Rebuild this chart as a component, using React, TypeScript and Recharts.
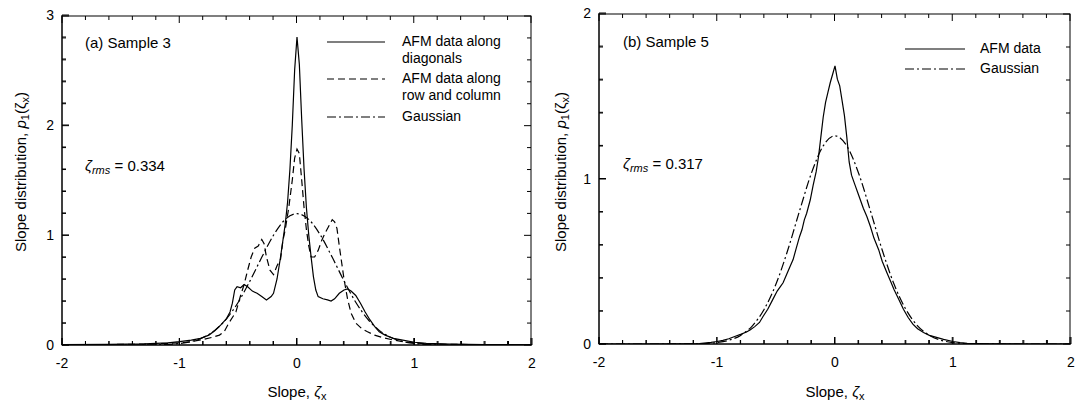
import React from "react";
import { LineChart, Line, XAxis, YAxis } from "recharts";

const FONT = '"Liberation Sans", Arial, sans-serif';

// x ticks shared by both panels (labels only on integers)
const slopeTicks = [-2, -1.8, -1.6, -1.4, -1.2, -1, -0.8, -0.6, -0.4, -0.2, 0, 0.2, 0.4, 0.6, 0.8, 1, 1.2, 1.4, 1.6, 1.8, 2];
const yTicksA = [0, 0.2, 0.4, 0.6, 0.8, 1, 1.2, 1.4, 1.6, 1.8, 2, 2.2, 2.4, 2.6, 2.8, 3];
const yTicksB = [0, 0.2, 0.4, 0.6, 0.8, 1, 1.2, 1.4, 1.6, 1.8, 2];

// (a) sample 3, AFM data along diagonals
const diagX = [-2, -1.6, -1.3, -1.1, -1, -0.9, -0.82, -0.75, -0.7, -0.65, -0.6, -0.57, -0.55, -0.53, -0.51, -0.48, -0.45, -0.42, -0.38, -0.34, -0.3, -0.26, -0.22, -0.2, -0.17, -0.14, -0.12, -0.1, -0.08, -0.06, -0.04, -0.02, 0, 0.02, 0.04, 0.06, 0.08, 0.1, 0.12, 0.14, 0.16, 0.18, 0.22, 0.26, 0.29, 0.32, 0.36, 0.4, 0.43, 0.46, 0.5, 0.54, 0.58, 0.62, 0.66, 0.7, 0.75, 0.82, 0.9, 1, 1.1, 1.3, 1.6, 2];
const diagY = [0.003, 0.005, 0.01, 0.02, 0.03, 0.045, 0.06, 0.09, 0.13, 0.18, 0.24, 0.3, 0.38, 0.5, 0.53, 0.52, 0.55, 0.53, 0.49, 0.47, 0.44, 0.41, 0.44, 0.47, 0.6, 0.8, 0.95, 1.1, 1.3, 1.6, 2.0, 2.5, 2.8, 2.55, 2.05, 1.6, 1.25, 1.0, 0.8, 0.62, 0.5, 0.44, 0.42, 0.41, 0.4, 0.42, 0.47, 0.5, 0.51, 0.49, 0.45, 0.38, 0.3, 0.23, 0.17, 0.12, 0.09, 0.06, 0.045, 0.025, 0.015, 0.008, 0.004, 0.002];

// (a) sample 3, AFM data along row and column
const rowX = [-2, -1.6, -1.3, -1.1, -1, -0.9, -0.8, -0.72, -0.66, -0.62, -0.58, -0.55, -0.52, -0.48, -0.45, -0.42, -0.39, -0.36, -0.33, -0.3, -0.28, -0.26, -0.23, -0.2, -0.17, -0.14, -0.12, -0.1, -0.07, -0.04, -0.02, 0, 0.02, 0.04, 0.06, 0.08, 0.1, 0.12, 0.15, 0.18, 0.21, 0.24, 0.27, 0.3, 0.32, 0.34, 0.36, 0.38, 0.4, 0.43, 0.46, 0.5, 0.55, 0.6, 0.66, 0.72, 0.8, 0.9, 1, 1.1, 1.3, 1.6, 2];
const rowY = [0.002, 0.004, 0.008, 0.015, 0.02, 0.03, 0.05, 0.07, 0.09, 0.12, 0.2, 0.25, 0.3, 0.45, 0.55, 0.68, 0.8, 0.88, 0.9, 0.96, 0.92, 0.8, 0.68, 0.64, 0.72, 0.78, 0.95, 1.05, 1.25, 1.5, 1.7, 1.78, 1.74, 1.5, 1.25, 1.05, 0.9, 0.8, 0.8, 0.86, 0.95, 1.02, 1.08, 1.14, 1.12, 1.06, 0.9, 0.75, 0.6, 0.42, 0.29, 0.2, 0.15, 0.12, 0.09, 0.07, 0.05, 0.03, 0.02, 0.012, 0.006, 0.003, 0.002];

// Gaussian curves
const gaussX = [-2, -1.7, -1.4, -1.3, -1.2, -1.1, -1, -0.9, -0.8, -0.7, -0.6, -0.5, -0.4, -0.3, -0.2, -0.1, 0, 0.1, 0.2, 0.3, 0.4, 0.5, 0.6, 0.7, 0.8, 0.9, 1, 1.1, 1.2, 1.3, 1.4, 1.7, 2];
const gaussAY = [0, 0, 0.0002, 0.0006, 0.0019, 0.0053, 0.0135, 0.032, 0.068, 0.133, 0.238, 0.389, 0.583, 0.797, 0.998, 1.142, 1.194, 1.142, 0.998, 0.797, 0.583, 0.389, 0.238, 0.133, 0.068, 0.032, 0.0135, 0.0053, 0.0019, 0.0006, 0.0002, 0, 0];
const gaussBY = [0, 0, 0.0001, 0.0003, 0.001, 0.003, 0.0087, 0.0223, 0.052, 0.11, 0.21, 0.362, 0.568, 0.805, 1.032, 1.197, 1.258, 1.197, 1.032, 0.805, 0.568, 0.362, 0.21, 0.11, 0.052, 0.0223, 0.0087, 0.003, 0.001, 0.0003, 0.0001, 0, 0];

// (b) sample 5, AFM data
const afmBX = [-2, -1.6, -1.3, -1.15, -1.05, -1, -0.95, -0.9, -0.85, -0.8, -0.75, -0.72, -0.68, -0.64, -0.61, -0.57, -0.53, -0.49, -0.46, -0.44, -0.41, -0.38, -0.355, -0.33, -0.3, -0.28, -0.26, -0.24, -0.21, -0.185, -0.16, -0.14, -0.12, -0.1, -0.08, -0.06, -0.04, -0.02, 0, 0.02, 0.04, 0.06, 0.08, 0.1, 0.12, 0.14, 0.17, 0.2, 0.24, 0.27, 0.3, 0.33, 0.37, 0.4, 0.44, 0.47, 0.5, 0.54, 0.58, 0.62, 0.66, 0.7, 0.75, 0.8, 0.86, 0.92, 1, 1.06, 1.12, 1.3, 1.6, 2];
const afmBY = [0, 0, 0.001, 0.003, 0.01, 0.015, 0.022, 0.032, 0.045, 0.058, 0.072, 0.085, 0.105, 0.13, 0.166, 0.21, 0.265, 0.32, 0.35, 0.37, 0.42, 0.47, 0.51, 0.575, 0.65, 0.69, 0.75, 0.79, 0.87, 0.96, 1.04, 1.13, 1.25, 1.37, 1.46, 1.52, 1.58, 1.63, 1.68, 1.6, 1.56, 1.47, 1.38, 1.25, 1.1, 1.02, 0.96, 0.9, 0.82, 0.77, 0.71, 0.64, 0.57, 0.5, 0.43, 0.38, 0.33, 0.27, 0.21, 0.16, 0.12, 0.092, 0.07, 0.052, 0.04, 0.028, 0.015, 0.008, 0.004, 0.001, 0, 0];

const zip = (xs: number[], ys: number[]) => xs.map((x, i) => ({ x, y: ys[i] }));

const SOLID = "";
const DASHED = "7 4";
const DASHDOT = "9 3 2 3";

const isMajor = (v: number) => Math.abs(v - Math.round(v)) < 1e-6;

// ticks point inward; labels only on integer values
const BottomTick = (p: any) => {
  const major = isMajor(p.payload.value);
  const x = Number(p.x), y = Number(p.y);
  return (
    <g>
      <line x1={x} x2={x} y1={y} y2={y - (major ? 7 : 4)} stroke="#000" strokeWidth={1} />
      {major && (
        <text x={x} y={y + 23} textAnchor="middle" fontSize={14} fontFamily={FONT} fill="#000">
          {p.payload.value}
        </text>
      )}
    </g>
  );
};

const LeftTick = (p: any) => {
  const major = isMajor(p.payload.value);
  const x = Number(p.x), y = Number(p.y);
  return (
    <g>
      <line x1={x} x2={x + (major ? 7 : 4)} y1={y} y2={y} stroke="#000" strokeWidth={1} />
      {major && (
        <text x={x - 8} y={y + 5} textAnchor="end" fontSize={14} fontFamily={FONT} fill="#000">
          {p.payload.value}
        </text>
      )}
    </g>
  );
};

type Series = { name: string; data: { x: number; y: number }[]; dash: string; curve: "linear" | "monotone" };

function Panel(props: { yMax: number; yTicks: number[]; margin: any; series: Series[] }) {
  return (
    <LineChart width={539} height={410} margin={props.margin}>
      <XAxis xAxisId="b" dataKey="x" type="number" domain={[-2, 2]} ticks={slopeTicks} interval={0} height={1} tickSize={0} tickMargin={0} tick={<BottomTick />} axisLine={{ stroke: "#000" }} tickLine={false} allowDataOverflow />
      <YAxis yAxisId="l" type="number" domain={[0, props.yMax]} ticks={props.yTicks} interval={0} width={1} tickSize={0} tickMargin={0} tick={<LeftTick />} axisLine={{ stroke: "#000" }} tickLine={false} allowDataOverflow />
      {props.series.map((s) => (
        <Line key={s.name} xAxisId="b" yAxisId="l" data={s.data} dataKey="y" type={s.curve} stroke="#000" strokeWidth={1.2} strokeDasharray={s.dash || undefined} dot={false} activeDot={false} isAnimationActive={false} />
      ))}
    </LineChart>
  );
}

// box frame with inward tick marks on all four sides of a plot area
function Frame(props: { x0: number; x1: number; y0: number; y1: number; yMax: number; yTicks: number[] }) {
  const { x0, x1, y0, y1, yMax } = props;
  const sx = (v: number) => x0 + ((v + 2) / 4) * (x1 - x0);
  const sy = (v: number) => y1 - (v / yMax) * (y1 - y0);
  const marks: React.ReactNode[] = [];
  slopeTicks.forEach((v, i) => {
    const len = isMajor(v) ? 7 : 4;
    const x = sx(v);
    marks.push(<line key={"b" + i} x1={x} x2={x} y1={y1} y2={y1 - len} />);
    marks.push(<line key={"t" + i} x1={x} x2={x} y1={y0} y2={y0 + len} />);
  });
  props.yTicks.forEach((v, i) => {
    const len = isMajor(v) ? 7 : 4;
    const y = sy(v);
    marks.push(<line key={"l" + i} x1={x0} x2={x0 + len} y1={y} y2={y} />);
    marks.push(<line key={"r" + i} x1={x1} x2={x1 - len} y1={y} y2={y} />);
  });
  return (
    <g stroke="#000" strokeWidth={1} fill="none">
      <rect x={x0} y={y0} width={x1 - x0} height={y1 - y0} />
      {marks}
    </g>
  );
}

const LegendLine = ({ left, top, width, dash }: { left: number; top: number; width: number; dash: string }) => (
  <svg style={{ position: "absolute", left, top: top - 2 }} width={width} height={4}>
    <line x1={0} x2={width} y1={2} y2={2} stroke="#000" strokeWidth={1.2} strokeDasharray={dash || undefined} />
  </svg>
);

const txt = (left: number, top: number, size = 15): React.CSSProperties => ({
  position: "absolute",
  left,
  top,
  fontSize: size,
  lineHeight: `${size + 3}px`,
  fontFamily: FONT,
  color: "#000",
  whiteSpace: "nowrap",
});

const subStyle: React.CSSProperties = { fontSize: 11, verticalAlign: "-3px" };

const Zrms = ({ value }: { value: string }) => (
  <span>
    <i>ζ</i>
    <sub style={{ ...subStyle, fontStyle: "italic" }}>rms</sub> = {value}
  </span>
);

const XTitle = ({ cx }: { cx: number }) => (
  <div style={{ ...txt(cx, 383), transform: "translateX(-50%)" }}>
    Slope, <i>ζ</i>
    <sub style={subStyle}>x</sub>
  </div>
);

const YTitle = ({ cx }: { cx: number }) => (
  <div style={{ ...txt(cx, 172), transform: "translate(-50%, -50%) rotate(-90deg)" }}>
    Slope distribution, <i>p</i>
    <sub style={subStyle}>1</sub>(ζ<sub style={subStyle}>x</sub>)
  </div>
);

export default function App() {
  const seriesA: Series[] = [
    { name: "diag", data: zip(diagX, diagY), dash: SOLID, curve: "linear" },
    { name: "row", data: zip(rowX, rowY), dash: DASHED, curve: "linear" },
    { name: "gauss", data: zip(gaussX, gaussAY), dash: DASHDOT, curve: "monotone" },
  ];
  const seriesB: Series[] = [
    { name: "afm", data: zip(afmBX, afmBY), dash: SOLID, curve: "linear" },
    { name: "gauss", data: zip(gaussX, gaussBY), dash: DASHDOT, curve: "monotone" },
  ];

  return (
    <div style={{ position: "absolute", left: 0, top: 0, width: 1078, height: 410 }}>
      <div style={{ position: "absolute", left: 0, top: 0 }}>
        <Panel yMax={3} yTicks={yTicksA} margin={{ top: 15, right: 7, bottom: 64, left: 61 }} series={seriesA} />
      </div>
      <div style={{ position: "absolute", left: 539, top: 0 }}>
        <Panel yMax={2} yTicks={yTicksB} margin={{ top: 13, right: 7, bottom: 65, left: 59 }} series={seriesB} />
      </div>

      <svg style={{ position: "absolute", left: 0, top: 0, pointerEvents: "none" }} width={1078} height={410}>
        <Frame x0={62} x1={531} y0={16} y1={345} yMax={3} yTicks={yTicksA} />
        <Frame x0={599} x1={1070} y0={14} y1={344} yMax={2} yTicks={yTicksB} />
      </svg>

      {/* axis titles */}
      <XTitle cx={297} />
      <XTitle cx={835} />
      <YTitle cx={23} />
      <YTitle cx={563} />

      {/* panel (a) annotations */}
      <div style={txt(85, 34)}>(a) Sample 3</div>
      <div style={txt(85, 157)}>
        <Zrms value="0.334" />
      </div>
      <LegendLine left={327} top={42} width={58} dash={SOLID} />
      <div style={txt(402, 33, 14)}>AFM data along<br />diagonals</div>
      <LegendLine left={327} top={79} width={58} dash={DASHED} />
      <div style={txt(402, 70, 14)}>AFM data along<br />row and column</div>
      <LegendLine left={327} top={117} width={58} dash={DASHDOT} />
      <div style={txt(402, 108, 14)}>Gaussian</div>

      {/* panel (b) annotations */}
      <div style={txt(623, 33)}>(b) Sample 5</div>
      <div style={txt(623, 155)}>
        <Zrms value="0.317" />
      </div>
      <LegendLine left={905} top={49} width={60} dash={SOLID} />
      <div style={txt(980, 40, 14)}>AFM data</div>
      <LegendLine left={905} top={69} width={60} dash={DASHDOT} />
      <div style={txt(980, 60, 14)}>Gaussian</div>
    </div>
  );
}
